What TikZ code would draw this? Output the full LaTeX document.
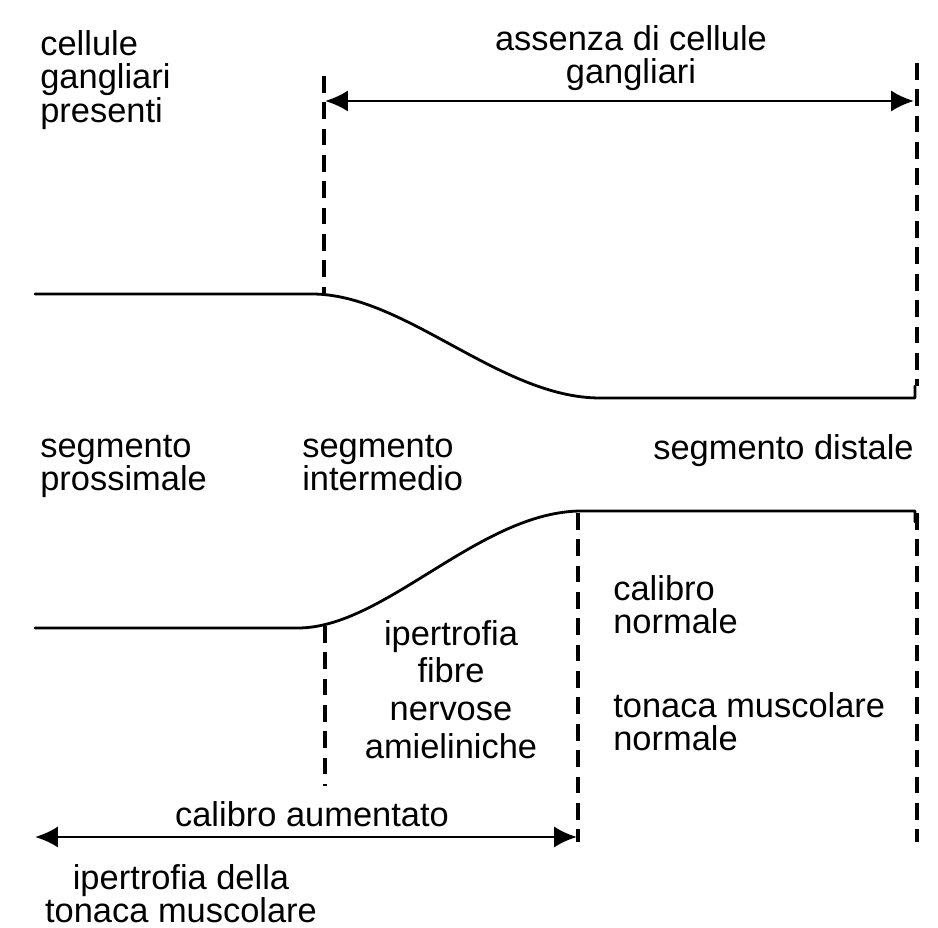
\documentclass[tikz,border=0pt]{standalone}
\usepackage{fontspec}
\setmainfont{Liberation Sans}
\usetikzlibrary{arrows.meta}
\begin{document}
\begin{tikzpicture}[x=0.02cm,y=-0.02cm,
  lbl/.style={inner sep=0pt,font=\fontsize{19.6}{19}\selectfont},
  lblwide/.style={inner sep=0pt,font=\fontsize{19.6}{21.4}\selectfont},
  curve/.style={line width=1.6pt,line cap=round,line join=round},
  dashline/.style={line width=1.8pt,dash pattern=on 9.5pt off 5.5pt},
  dimarrow/.style={line width=1.6pt,{Latex[length=13pt,width=12pt]}-{Latex[length=13pt,width=12pt]}}]
\useasboundingbox[fill=white] (0,0) rectangle (938,928);
% key points
\coordinate (t0) at (35,294);
\coordinate (t1) at (312,294);
\coordinate (t2) at (600,398);
\coordinate (t3) at (915,398);
\coordinate (t4) at (915,386);
\coordinate (b0) at (35,628);
\coordinate (b1) at (298,628);
\coordinate (b2) at (582,511);
\coordinate (b3) at (915,511);
\coordinate (b4) at (915,522);
% curves
\draw[curve] (t0) -- (t1) .. controls (405,294) and (500,398) .. (t2) -- (t3) -- (t4);
\draw[curve] (b0) -- (b1) .. controls (385,628) and (480,511) .. (b2) -- (b3) -- (b4);
% dashed verticals
\coordinate (d1a) at (324,76);
\coordinate (d1b) at (324,296);
\coordinate (d2a) at (917,63);
\coordinate (d2b) at (917,386);
\coordinate (d3a) at (325,626);
\coordinate (d3b) at (325,786);
\coordinate (d4a) at (578,513);
\coordinate (d4b) at (578,842);
\coordinate (d5a) at (917,513);
\coordinate (d5b) at (917,842);
\draw[dashline] (d1a) -- (d1b);
\draw[dashline] (d2a) -- (d2b);
\draw[dashline] (d3a) -- (d3b);
\draw[dashline] (d4a) -- (d4b);
\draw[dashline] (d5a) -- (d5b);
% dimension arrows
\coordinate (a1) at (325,101);
\coordinate (a2) at (914,101);
\coordinate (a3) at (35,837);
\coordinate (a4) at (577,837);
\draw[dimarrow] (a1) -- (a2);
\draw[dimarrow] (a3) -- (a4);
% labels
\node[lbl,anchor=north west,align=left] (cgp) at (40,30) {cellule\\gangliari\\presenti};
\node[lbl,anchor=north,align=center] (acg) at (631,25) {assenza di cellule\\gangliari};
\node[lbl,anchor=north west,align=left] (sp) at (40,435) {segmento\\prossimale};
\node[lbl,anchor=north west,align=left] (si) at (302,435) {segmento\\intermedio};
\node[lbl,anchor=base west] (sd) at (653,460) {segmento distale};
\node[lbl,anchor=north west,align=left] (cn) at (613,575) {calibro\\normale};
\node[lbl,anchor=north west,align=left] (tmn) at (613,692) {tonaca muscolare\\normale};
\node[lblwide,anchor=north,align=center] (ifn) at (451,620) {ipertrofia\\fibre\\nervose\\amieliniche};
\node[lbl,anchor=base] (ca) at (312,827) {calibro aumentato};
\node[lbl,anchor=north,align=center] (itm) at (181,864) {ipertrofia della\\tonaca muscolare};
\end{tikzpicture}
\end{document}
